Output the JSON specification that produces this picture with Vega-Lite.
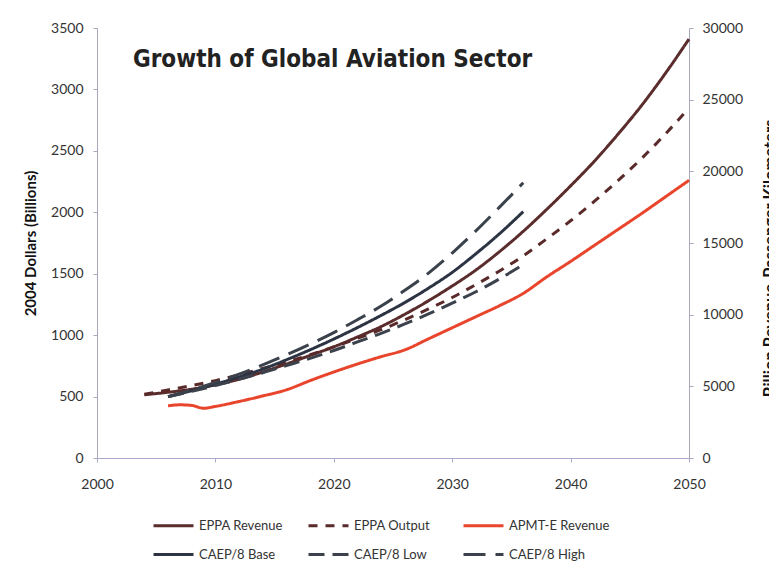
{
  "$schema": "https://vega.github.io/schema/vega-lite/v6.json",
  "autosize": {"type": "none"},
  "width": 592,
  "height": 430,
  "padding": {"left": 97, "top": 28, "right": 80, "bottom": 115},
  "background": "white",
  "title": {
    "text": "Growth of Global Aviation Sector",
    "anchor": "start",
    "frame": "group",
    "orient": "top",
    "offset": -70,
    "dx": 36,
    "baseline": "alphabetic",
    "font": "DejaVu Sans Condensed",
    "fontWeight": "bold",
    "fontSize": 24,
    "color": "#222222"
  },
  "data": {
    "values": [
      {"series": "EPPA Revenue", "year": 2004, "value": 515},
      {"series": "EPPA Revenue", "year": 2006, "value": 535},
      {"series": "EPPA Revenue", "year": 2008, "value": 560},
      {"series": "EPPA Revenue", "year": 2010, "value": 595},
      {"series": "EPPA Revenue", "year": 2012, "value": 640},
      {"series": "EPPA Revenue", "year": 2014, "value": 700},
      {"series": "EPPA Revenue", "year": 2016, "value": 765},
      {"series": "EPPA Revenue", "year": 2018, "value": 835},
      {"series": "EPPA Revenue", "year": 2020, "value": 905},
      {"series": "EPPA Revenue", "year": 2022, "value": 985},
      {"series": "EPPA Revenue", "year": 2024, "value": 1070},
      {"series": "EPPA Revenue", "year": 2026, "value": 1170},
      {"series": "EPPA Revenue", "year": 2028, "value": 1280},
      {"series": "EPPA Revenue", "year": 2030, "value": 1400},
      {"series": "EPPA Revenue", "year": 2032, "value": 1530},
      {"series": "EPPA Revenue", "year": 2034, "value": 1680},
      {"series": "EPPA Revenue", "year": 2036, "value": 1845},
      {"series": "EPPA Revenue", "year": 2038, "value": 2025},
      {"series": "EPPA Revenue", "year": 2040, "value": 2215},
      {"series": "EPPA Revenue", "year": 2042, "value": 2415},
      {"series": "EPPA Revenue", "year": 2044, "value": 2635},
      {"series": "EPPA Revenue", "year": 2046, "value": 2870},
      {"series": "EPPA Revenue", "year": 2048, "value": 3130},
      {"series": "EPPA Revenue", "year": 2050, "value": 3410},
      {"series": "APMT-E Revenue", "year": 2006, "value": 425},
      {"series": "APMT-E Revenue", "year": 2007, "value": 433},
      {"series": "APMT-E Revenue", "year": 2008, "value": 428},
      {"series": "APMT-E Revenue", "year": 2009, "value": 405},
      {"series": "APMT-E Revenue", "year": 2010, "value": 420},
      {"series": "APMT-E Revenue", "year": 2012, "value": 460},
      {"series": "APMT-E Revenue", "year": 2014, "value": 505},
      {"series": "APMT-E Revenue", "year": 2016, "value": 555},
      {"series": "APMT-E Revenue", "year": 2018, "value": 630},
      {"series": "APMT-E Revenue", "year": 2020, "value": 700},
      {"series": "APMT-E Revenue", "year": 2022, "value": 765},
      {"series": "APMT-E Revenue", "year": 2024, "value": 825},
      {"series": "APMT-E Revenue", "year": 2026, "value": 880},
      {"series": "APMT-E Revenue", "year": 2028, "value": 970},
      {"series": "APMT-E Revenue", "year": 2030, "value": 1060},
      {"series": "APMT-E Revenue", "year": 2032, "value": 1150},
      {"series": "APMT-E Revenue", "year": 2034, "value": 1240},
      {"series": "APMT-E Revenue", "year": 2036, "value": 1340},
      {"series": "APMT-E Revenue", "year": 2038, "value": 1475},
      {"series": "APMT-E Revenue", "year": 2040, "value": 1600},
      {"series": "APMT-E Revenue", "year": 2042, "value": 1730},
      {"series": "APMT-E Revenue", "year": 2044, "value": 1860},
      {"series": "APMT-E Revenue", "year": 2046, "value": 1990},
      {"series": "APMT-E Revenue", "year": 2048, "value": 2125},
      {"series": "APMT-E Revenue", "year": 2050, "value": 2260},
      {"series": "EPPA Output", "year": 2004, "value": 4450},
      {"series": "EPPA Output", "year": 2006, "value": 4750},
      {"series": "EPPA Output", "year": 2008, "value": 5050},
      {"series": "EPPA Output", "year": 2010, "value": 5400},
      {"series": "EPPA Output", "year": 2012, "value": 5800},
      {"series": "EPPA Output", "year": 2014, "value": 6250},
      {"series": "EPPA Output", "year": 2016, "value": 6700},
      {"series": "EPPA Output", "year": 2018, "value": 7200},
      {"series": "EPPA Output", "year": 2020, "value": 7750},
      {"series": "EPPA Output", "year": 2022, "value": 8350},
      {"series": "EPPA Output", "year": 2024, "value": 8950},
      {"series": "EPPA Output", "year": 2026, "value": 9650},
      {"series": "EPPA Output", "year": 2028, "value": 10400},
      {"series": "EPPA Output", "year": 2030, "value": 11200},
      {"series": "EPPA Output", "year": 2032, "value": 12100},
      {"series": "EPPA Output", "year": 2034, "value": 13050},
      {"series": "EPPA Output", "year": 2036, "value": 14100},
      {"series": "EPPA Output", "year": 2038, "value": 15300},
      {"series": "EPPA Output", "year": 2040, "value": 16550},
      {"series": "EPPA Output", "year": 2042, "value": 17900},
      {"series": "EPPA Output", "year": 2044, "value": 19350},
      {"series": "EPPA Output", "year": 2046, "value": 20900},
      {"series": "EPPA Output", "year": 2048, "value": 22600},
      {"series": "EPPA Output", "year": 2050, "value": 24420},
      {"series": "CAEP/8 Base", "year": 2006, "value": 4280},
      {"series": "CAEP/8 Base", "year": 2008, "value": 4700},
      {"series": "CAEP/8 Base", "year": 2010, "value": 5150},
      {"series": "CAEP/8 Base", "year": 2012, "value": 5650},
      {"series": "CAEP/8 Base", "year": 2014, "value": 6200},
      {"series": "CAEP/8 Base", "year": 2016, "value": 6850},
      {"series": "CAEP/8 Base", "year": 2018, "value": 7550},
      {"series": "CAEP/8 Base", "year": 2020, "value": 8300},
      {"series": "CAEP/8 Base", "year": 2022, "value": 9100},
      {"series": "CAEP/8 Base", "year": 2024, "value": 9950},
      {"series": "CAEP/8 Base", "year": 2026, "value": 10850},
      {"series": "CAEP/8 Base", "year": 2028, "value": 11850},
      {"series": "CAEP/8 Base", "year": 2030, "value": 12950},
      {"series": "CAEP/8 Base", "year": 2032, "value": 14250},
      {"series": "CAEP/8 Base", "year": 2034, "value": 15650},
      {"series": "CAEP/8 Base", "year": 2036, "value": 17190},
      {"series": "CAEP/8 Low", "year": 2006, "value": 4280},
      {"series": "CAEP/8 Low", "year": 2008, "value": 4650},
      {"series": "CAEP/8 Low", "year": 2010, "value": 5050},
      {"series": "CAEP/8 Low", "year": 2012, "value": 5500},
      {"series": "CAEP/8 Low", "year": 2014, "value": 5950},
      {"series": "CAEP/8 Low", "year": 2016, "value": 6450},
      {"series": "CAEP/8 Low", "year": 2018, "value": 6950},
      {"series": "CAEP/8 Low", "year": 2020, "value": 7500},
      {"series": "CAEP/8 Low", "year": 2022, "value": 8100},
      {"series": "CAEP/8 Low", "year": 2024, "value": 8700},
      {"series": "CAEP/8 Low", "year": 2026, "value": 9350},
      {"series": "CAEP/8 Low", "year": 2028, "value": 10050},
      {"series": "CAEP/8 Low", "year": 2030, "value": 10800},
      {"series": "CAEP/8 Low", "year": 2032, "value": 11600},
      {"series": "CAEP/8 Low", "year": 2034, "value": 12500},
      {"series": "CAEP/8 Low", "year": 2036, "value": 13500},
      {"series": "CAEP/8 High", "year": 2006, "value": 4280},
      {"series": "CAEP/8 High", "year": 2008, "value": 4750},
      {"series": "CAEP/8 High", "year": 2010, "value": 5280},
      {"series": "CAEP/8 High", "year": 2012, "value": 5850},
      {"series": "CAEP/8 High", "year": 2014, "value": 6500},
      {"series": "CAEP/8 High", "year": 2016, "value": 7200},
      {"series": "CAEP/8 High", "year": 2018, "value": 7950},
      {"series": "CAEP/8 High", "year": 2020, "value": 8750},
      {"series": "CAEP/8 High", "year": 2022, "value": 9650},
      {"series": "CAEP/8 High", "year": 2024, "value": 10600},
      {"series": "CAEP/8 High", "year": 2026, "value": 11700},
      {"series": "CAEP/8 High", "year": 2028, "value": 12900},
      {"series": "CAEP/8 High", "year": 2030, "value": 14300},
      {"series": "CAEP/8 High", "year": 2032, "value": 15850},
      {"series": "CAEP/8 High", "year": 2034, "value": 17500},
      {"series": "CAEP/8 High", "year": 2036, "value": 19200}
    ]
  },
  "encoding": {
    "x": {
      "field": "year",
      "type": "quantitative",
      "scale": {"domain": [2000, 2050], "nice": false, "zero": false},
      "axis": {
        "title": null,
        "values": [2000, 2010, 2020, 2030, 2040, 2050],
        "format": "d",
        "labelFlush": false,
        "grid": false,
        "domainColor": "#aaaad0",
        "tickColor": "#aaaad0",
        "tickSize": 4,
        "labelPadding": 15,
        "labelFont": "Lato",
        "labelFontSize": 14,
        "labelColor": "#333333"
      }
    },
    "color": {
      "field": "series",
      "type": "nominal",
      "scale": {
        "domain": ["EPPA Revenue", "EPPA Output", "APMT-E Revenue", "CAEP/8 Base", "CAEP/8 Low", "CAEP/8 High"],
        "range": ["#5a2c2c", "#5a2a2a", "#e8452c", "#2c3444", "#3b424c", "#3b424c"]
      },
      "legend": {
        "title": null,
        "orient": "none",
        "legendX": 55,
        "legendY": 476,
        "direction": "horizontal",
        "columns": 3,
        "gridAlign": "all",
        "columnPadding": 2,
        "rowPadding": -3,
        "symbolType": "stroke",
        "symbolSize": 1600,
        "symbolStrokeWidth": 3,
        "labelFont": "Lato",
        "labelFontSize": 13,
        "labelColor": "#333333",
        "labelOffset": 4,
        "labelLimit": 200
      }
    },
    "strokeDash": {
      "field": "series",
      "type": "nominal",
      "scale": {
        "domain": ["EPPA Revenue", "EPPA Output", "APMT-E Revenue", "CAEP/8 Base", "CAEP/8 Low", "CAEP/8 High"],
        "range": [[1, 0], [9, 8], [1, 0], [1, 0], [16, 8], [22, 10]]
      },
      "legend": null
    }
  },
  "layer": [
    {
      "transform": [{"filter": {"field": "series", "oneOf": ["EPPA Revenue", "APMT-E Revenue"]}}],
      "mark": {"type": "line", "strokeWidth": 3, "interpolate": "monotone", "strokeCap": "butt"},
      "encoding": {
        "y": {
          "field": "value",
          "type": "quantitative",
          "scale": {"domain": [0, 3500], "nice": false},
          "axis": {
            "orient": "left",
            "title": "2004 Dollars (Billions)",
            "values": [0, 500, 1000, 1500, 2000, 2500, 3000, 3500],
            "format": "d",
            "grid": false,
            "domainColor": "#a8a8bc",
            "tickColor": "#a8a8bc",
            "tickSize": 4,
            "labelPadding": 10,
            "labelFont": "Lato",
            "labelFontSize": 14,
            "labelColor": "#333333",
            "titleFont": "Lato",
            "titleFontSize": 15,
            "titleFontWeight": "bold",
            "titleColor": "#111111",
            "titleAngle": -90,
            "titleX": -67,
            "titleY": 215,
            "titleAlign": "center",
            "titleBaseline": "middle"
          }
        }
      }
    },
    {
      "transform": [{"filter": {"field": "series", "oneOf": ["EPPA Output", "CAEP/8 Base", "CAEP/8 Low", "CAEP/8 High"]}}],
      "mark": {"type": "line", "strokeWidth": 3, "interpolate": "monotone", "strokeCap": "butt"},
      "encoding": {
        "y": {
          "field": "value",
          "type": "quantitative",
          "scale": {"domain": [0, 30000], "nice": false},
          "axis": {
            "orient": "right",
            "title": "Billion Revenue-Passenger Kilometers",
            "values": [0, 5000, 10000, 15000, 20000, 25000, 30000],
            "format": "d",
            "grid": false,
            "domainColor": "#a8a8bc",
            "tickColor": "#a8a8bc",
            "tickSize": 4,
            "labelPadding": 9,
            "labelFont": "Lato",
            "labelFontSize": 14,
            "labelColor": "#333333",
            "titleFont": "Lato",
            "titleFontSize": 16.5,
            "titleFontWeight": "bold",
            "titleColor": "#111111",
            "titleAngle": -90,
            "titleX": 73,
            "titleY": 230,
            "titleAlign": "center",
            "titleBaseline": "top"
          }
        }
      }
    }
  ],
  "resolve": {"scale": {"y": "independent"}},
  "config": {"view": {"stroke": null}}
}
